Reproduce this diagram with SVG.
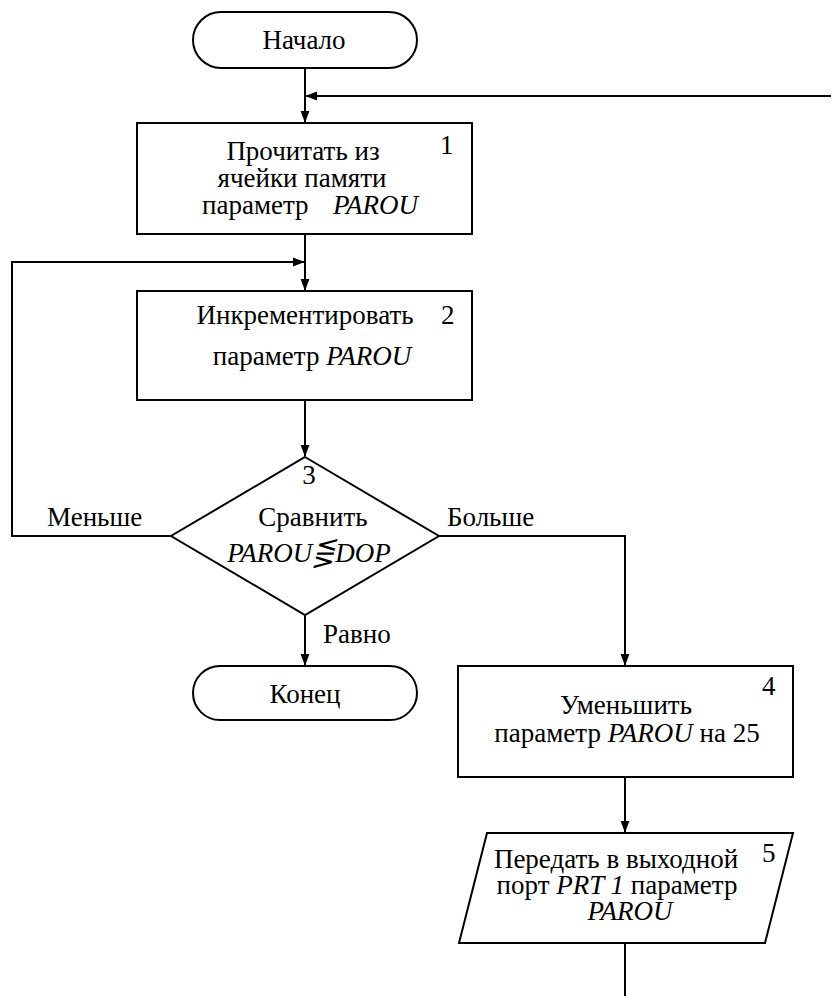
<svg xmlns="http://www.w3.org/2000/svg" width="835" height="996" viewBox="0 0 835 996">
<style>
.s{fill:#fff;stroke:#000;stroke-width:2}
.c{fill:none;stroke:#000;stroke-width:2}
</style>
<defs>
<marker id="ah" markerUnits="userSpaceOnUse" markerWidth="12" markerHeight="16" refX="15" refY="6" viewBox="0 0 16 12" orient="auto">
<path d="M0,0 L16,6 L0,12 Z" fill="#000"/>
</marker>
</defs>
<rect width="835" height="996" fill="#fff"/>
<g id="connectors">
<line class="c" x1="305" y1="68" x2="305" y2="122" marker-end="url(#ah)"/>
<line class="c" x1="831" y1="96" x2="306" y2="96" marker-end="url(#ah)"/>
<line class="c" x1="305" y1="234" x2="305" y2="290" marker-end="url(#ah)"/>
<polyline class="c" points="171,536 12,536 12,262 304,262" marker-end="url(#ah)"/>
<line class="c" x1="305" y1="400" x2="305" y2="456" marker-end="url(#ah)"/>
<line class="c" x1="305" y1="615" x2="305" y2="665" marker-end="url(#ah)"/>
<polyline class="c" points="439,536 625,536 625,665" marker-end="url(#ah)"/>
<line class="c" x1="625" y1="777" x2="625" y2="832" marker-end="url(#ah)"/>
<line class="c" x1="625" y1="943" x2="625" y2="996"/>
<text font-family="Liberation Serif" font-size="27" x="47" y="526">Меньше</text>
<text font-family="Liberation Serif" font-size="27" x="447" y="526">Больше</text>
<text font-family="Liberation Serif" font-size="27" x="323" y="643">Равно</text>
</g>
<g id="start">
<rect class="s" x="193" y="12" width="224" height="56" rx="28"/>
<text font-family="Liberation Serif" font-size="27" text-anchor="middle" x="304" y="49">Начало</text>
</g>
<g id="n1">
<rect class="s" x="137" y="123" width="335" height="111"/>
<text font-family="Liberation Serif" font-size="27" text-anchor="middle" x="303" y="160">Прочитать из</text>
<text font-family="Liberation Serif" font-size="27" text-anchor="middle" x="302" y="187">ячейки памяти</text>
<text font-family="Liberation Serif" font-size="27" x="202" y="214">параметр</text>
<text font-family="Liberation Serif" font-size="27" font-style="italic" x="333" y="214">PAROU</text>
<text font-family="Liberation Serif" font-size="27" x="440" y="154">1</text>
</g>
<g id="n2">
<rect class="s" x="137" y="291" width="335" height="109"/>
<text font-family="Liberation Serif" font-size="27" text-anchor="middle" x="305" y="324">Инкрементировать</text>
<text font-family="Liberation Serif" font-size="27" text-anchor="middle" x="312" y="365">параметр <tspan font-style="italic">PAROU</tspan></text>
<text font-family="Liberation Serif" font-size="27" x="441" y="324">2</text>
</g>
<g id="n3">
<polygon class="s" points="305,457 439,536 305,615 171,536"/>
<text font-family="Liberation Serif" font-size="27" text-anchor="middle" x="309" y="484">3</text>
<text font-family="Liberation Serif" font-size="27" text-anchor="middle" x="313" y="526">Сравнить</text>
<text font-family="Liberation Serif" font-size="27" text-anchor="middle" font-style="italic" x="309" y="562">PAROU⋚DOP</text>
</g>
<g id="end">
<rect class="s" x="193" y="666" width="224" height="54" rx="27"/>
<text font-family="Liberation Serif" font-size="27" text-anchor="middle" x="305" y="703">Конец</text>
</g>
<g id="n4">
<rect class="s" x="458" y="666" width="335" height="111"/>
<text font-family="Liberation Serif" font-size="27" text-anchor="middle" x="626" y="714">Уменьшить</text>
<text font-family="Liberation Serif" font-size="27" text-anchor="middle" x="627" y="742">параметр <tspan font-style="italic">PAROU</tspan> на 25</text>
<text font-family="Liberation Serif" font-size="27" x="762" y="695">4</text>
</g>
<g id="n5">
<polygon class="s" points="487,833 793,833 765,943 459,943"/>
<text font-family="Liberation Serif" font-size="27" text-anchor="middle" x="616" y="868">Передать в выходной</text>
<text font-family="Liberation Serif" font-size="27" text-anchor="middle" x="617" y="894">порт <tspan font-style="italic">PRT 1</tspan> параметр</text>
<text font-family="Liberation Serif" font-size="27" text-anchor="middle" font-style="italic" x="630" y="920">PAROU</text>
<text font-family="Liberation Serif" font-size="27" x="762" y="862">5</text>
</g>
</svg>
